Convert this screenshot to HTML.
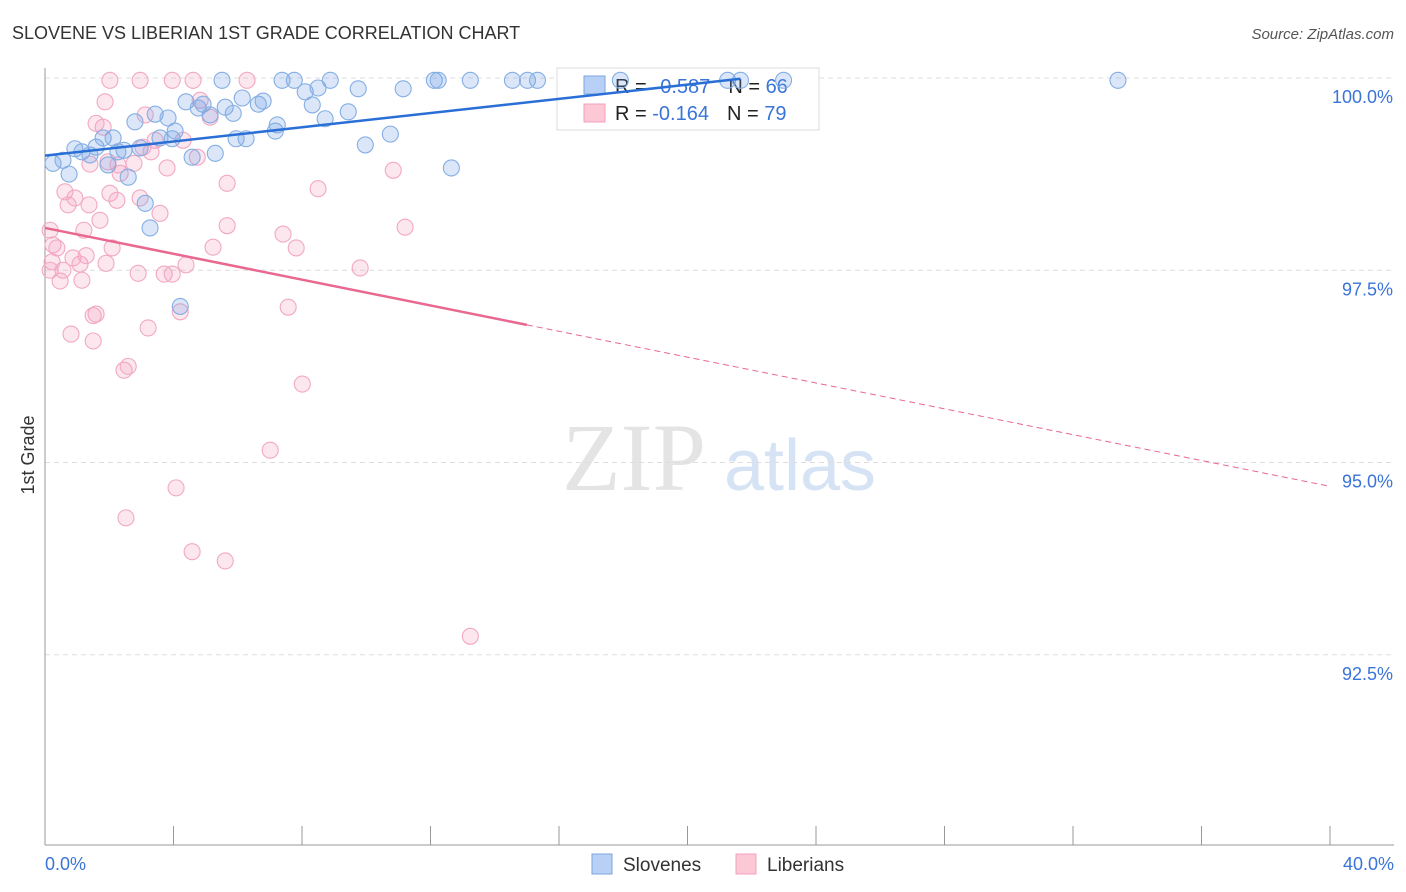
<!DOCTYPE html>
<html><head><meta charset="utf-8"><style>
body{margin:0;background:#fff;font-family:"Liberation Sans",sans-serif;}
svg{display:block}
</style></head><body>
<svg id="chart" width="1406" height="892">
<text x="12" y="39" font-size="18" fill="#333">SLOVENE VS LIBERIAN 1ST GRADE CORRELATION CHART</text>
<text x="1394" y="39" font-size="15" fill="#555" font-style="italic" text-anchor="end">Source: ZipAtlas.com</text>
<text x="634" y="490" font-size="96" fill="#e4e4e4" font-family="Liberation Serif" text-anchor="middle">ZIP</text>
<text x="800" y="490" font-size="72" fill="#d6e3f5" text-anchor="middle">atlas</text>
<text transform="translate(34,455) rotate(-90)" font-size="18" fill="#333" text-anchor="middle">1st Grade</text>
<g id="grid"></g><g id="axes"></g>
<g>
<rect x="557" y="68" width="262" height="62" fill="#fff" stroke="#ddd"/>
<rect x="584" y="76" width="21" height="18" fill="#b8d0f5" stroke="#7aa7e0"/>
<rect x="584" y="104" width="21" height="18" fill="#fcc8d6" stroke="#f0a0bc"/>
<text x="615" y="93" font-size="20" fill="#222">R = <tspan fill="#3a74d8" dx="8">0.587</tspan><tspan dx="18">N = </tspan><tspan fill="#3a74d8">66</tspan></text>
<text x="615" y="120" font-size="20" fill="#222">R = <tspan fill="#3a74d8">-0.164</tspan><tspan dx="18">N = </tspan><tspan fill="#3a74d8">79</tspan></text>
</g>
<g id="pts"></g><g id="lines"></g>
<g>
<rect x="592" y="854" width="20" height="20" fill="#b8d0f5" stroke="#7aa7e0"/>
<text x="623" y="871" font-size="19" fill="#333">Slovenes</text>
<rect x="736" y="854" width="20" height="20" fill="#fcc8d6" stroke="#f0a0bc"/>
<text x="767" y="871" font-size="19" fill="#333">Liberians</text>
</g>
</svg>
<script>
const blueX=[0.25,0.56,0.75,0.93,1.15,1.40,1.59,1.81,1.96,2.12,2.27,2.46,2.59,2.80,2.96,3.12,3.27,3.43,3.58,3.83,3.96,4.05,4.21,4.39,4.58,4.77,4.92,5.14,5.30,5.51,5.61,5.86,5.95,6.14,6.26,6.64,6.79,7.17,7.23,7.38,7.76,8.10,8.32,8.50,8.72,8.88,9.44,9.75,9.97,10.75,11.15,12.12,12.24,12.65,13.24,14.55,15.02,15.33,17.91,21.25,21.65,22.99,33.40];
const blueY=[98.89,98.93,98.75,99.08,99.04,99.0,99.10,99.22,98.87,99.22,99.04,99.06,98.71,99.43,99.09,98.37,98.05,99.53,99.22,99.48,99.21,99.31,97.03,99.69,98.97,99.61,99.66,99.52,99.02,99.97,99.62,99.54,99.21,99.74,99.21,99.66,99.70,99.31,99.39,99.97,99.97,99.82,99.65,99.87,99.47,99.97,99.56,99.86,99.13,99.27,99.86,99.97,99.97,98.83,99.97,99.97,99.97,99.97,99.97,99.97,99.97,99.97,99.97];
const pinkX=[0.16,0.25,0.16,0.22,0.37,0.47,0.56,0.62,0.72,0.81,0.87,0.93,1.09,1.15,1.21,1.28,1.37,1.40,1.50,1.59,1.50,1.71,1.81,1.87,1.96,2.02,2.09,2.24,2.34,2.46,2.52,2.59,2.77,2.90,2.96,3.05,3.21,3.30,3.43,3.58,3.71,3.80,3.96,4.08,4.21,4.30,4.39,3.96,4.61,4.58,4.74,5.14,5.23,5.61,5.67,5.67,6.29,7.01,7.41,7.57,7.82,8.01,8.50,9.81,10.84,11.21,13.24,2.02,2.96,1.90,2.27,1.59,3.12,4.83];
const pinkY=[98.02,97.83,97.50,97.61,97.79,97.36,97.50,98.52,98.35,96.67,97.66,98.44,97.58,97.37,98.02,97.69,98.35,98.88,96.91,96.93,96.58,98.15,99.36,99.69,98.91,98.50,97.79,98.41,98.76,96.20,94.28,96.25,98.89,97.46,98.44,99.10,96.75,99.04,99.19,98.24,97.45,98.83,97.45,94.67,96.96,99.19,97.57,99.97,99.97,93.84,98.97,99.49,97.80,93.72,98.63,98.08,99.97,95.16,97.97,97.02,97.79,96.02,98.56,97.53,98.80,98.06,92.74,99.97,99.97,97.59,98.87,99.41,99.52,99.71];
const yTicks=[100,97.5,95,92.5];
const yTickLabels=["100.0%","97.5%","95.0%","92.5%"];
const xTicks=[0,4,8,12,16,20,24,28,32,36,40];
const blueTrend=[[0,98.99],[21.65,99.99]];
const pinkTrend=[[0,98.05],[15,96.79],[40,94.69]];
const NS="http://www.w3.org/2000/svg";
const X=v=>45+v*32.125, Y=v=>78+(100-v)*76.9;
function mk(t,a,p){const e=document.createElementNS(NS,t);for(const k in a)e.setAttribute(k,a[k]);p.appendChild(e);return e;}
const grid=document.getElementById('grid'),axes=document.getElementById('axes');
yTicks.forEach((t,i)=>{
 const l=mk('line',{x1:45,x2:1394,y1:Y(t),y2:Y(t),stroke:'#ddd','stroke-dasharray':'5,4'},grid);
 
 
 const tx=mk('text',{x:1393,y:Y(t)+25,'font-size':18,fill:'#3a74d8','text-anchor':'end'},axes);
 tx.textContent=yTickLabels[i];
 
 
});
mk('line',{x1:45,x2:45,y1:68,y2:845,stroke:'#999'},axes);
mk('line',{x1:45,x2:1394,y1:845,y2:845,stroke:'#999'},axes);
xTicks.forEach(t=>{const l=mk('line',{x1:X(t),x2:X(t),y1:826,y2:845,stroke:'#999'},axes);
 
 });
const x0=mk('text',{x:45,y:870,'font-size':18,fill:'#3a74d8'},axes);x0.textContent="0.0%";


const x1=mk('text',{x:1394,y:870,'font-size':18,fill:'#3a74d8','text-anchor':'end'},axes);x1.textContent="40.0%";


const pts=document.getElementById('pts');
pinkX.forEach((x,i)=>{const c=mk('circle',{cx:X(x),cy:Y(pinkY[i]),r:8,fill:'rgba(245,160,190,0.25)',stroke:'#f2a8c2','stroke-width':1.1},pts);
 
 });
blueX.forEach((x,i)=>{const c=mk('circle',{cx:X(x),cy:Y(blueY[i]),r:8,fill:'rgba(110,160,230,0.25)',stroke:'#84aee3','stroke-width':1.1},pts);
 
 });
const lg=document.getElementById('lines');
const bl=mk('line',{x1:X(blueTrend[0][0]),y1:Y(blueTrend[0][1]),x2:X(blueTrend[1][0]),y2:Y(blueTrend[1][1]),stroke:'#2a6fd6','stroke-width':2.5},lg);


const pl=mk('line',{x1:X(pinkTrend[0][0]),y1:Y(pinkTrend[0][1]),x2:X(pinkTrend[1][0]),y2:Y(pinkTrend[1][1]),stroke:'#e8688f','stroke-width':2.5},lg);


const pd=mk('line',{x1:X(pinkTrend[1][0]),y1:Y(pinkTrend[1][1]),x2:X(pinkTrend[2][0]),y2:Y(pinkTrend[2][1]),stroke:'#e8688f','stroke-width':1,'stroke-dasharray':'6,4'},lg);


</script>
</body></html>
